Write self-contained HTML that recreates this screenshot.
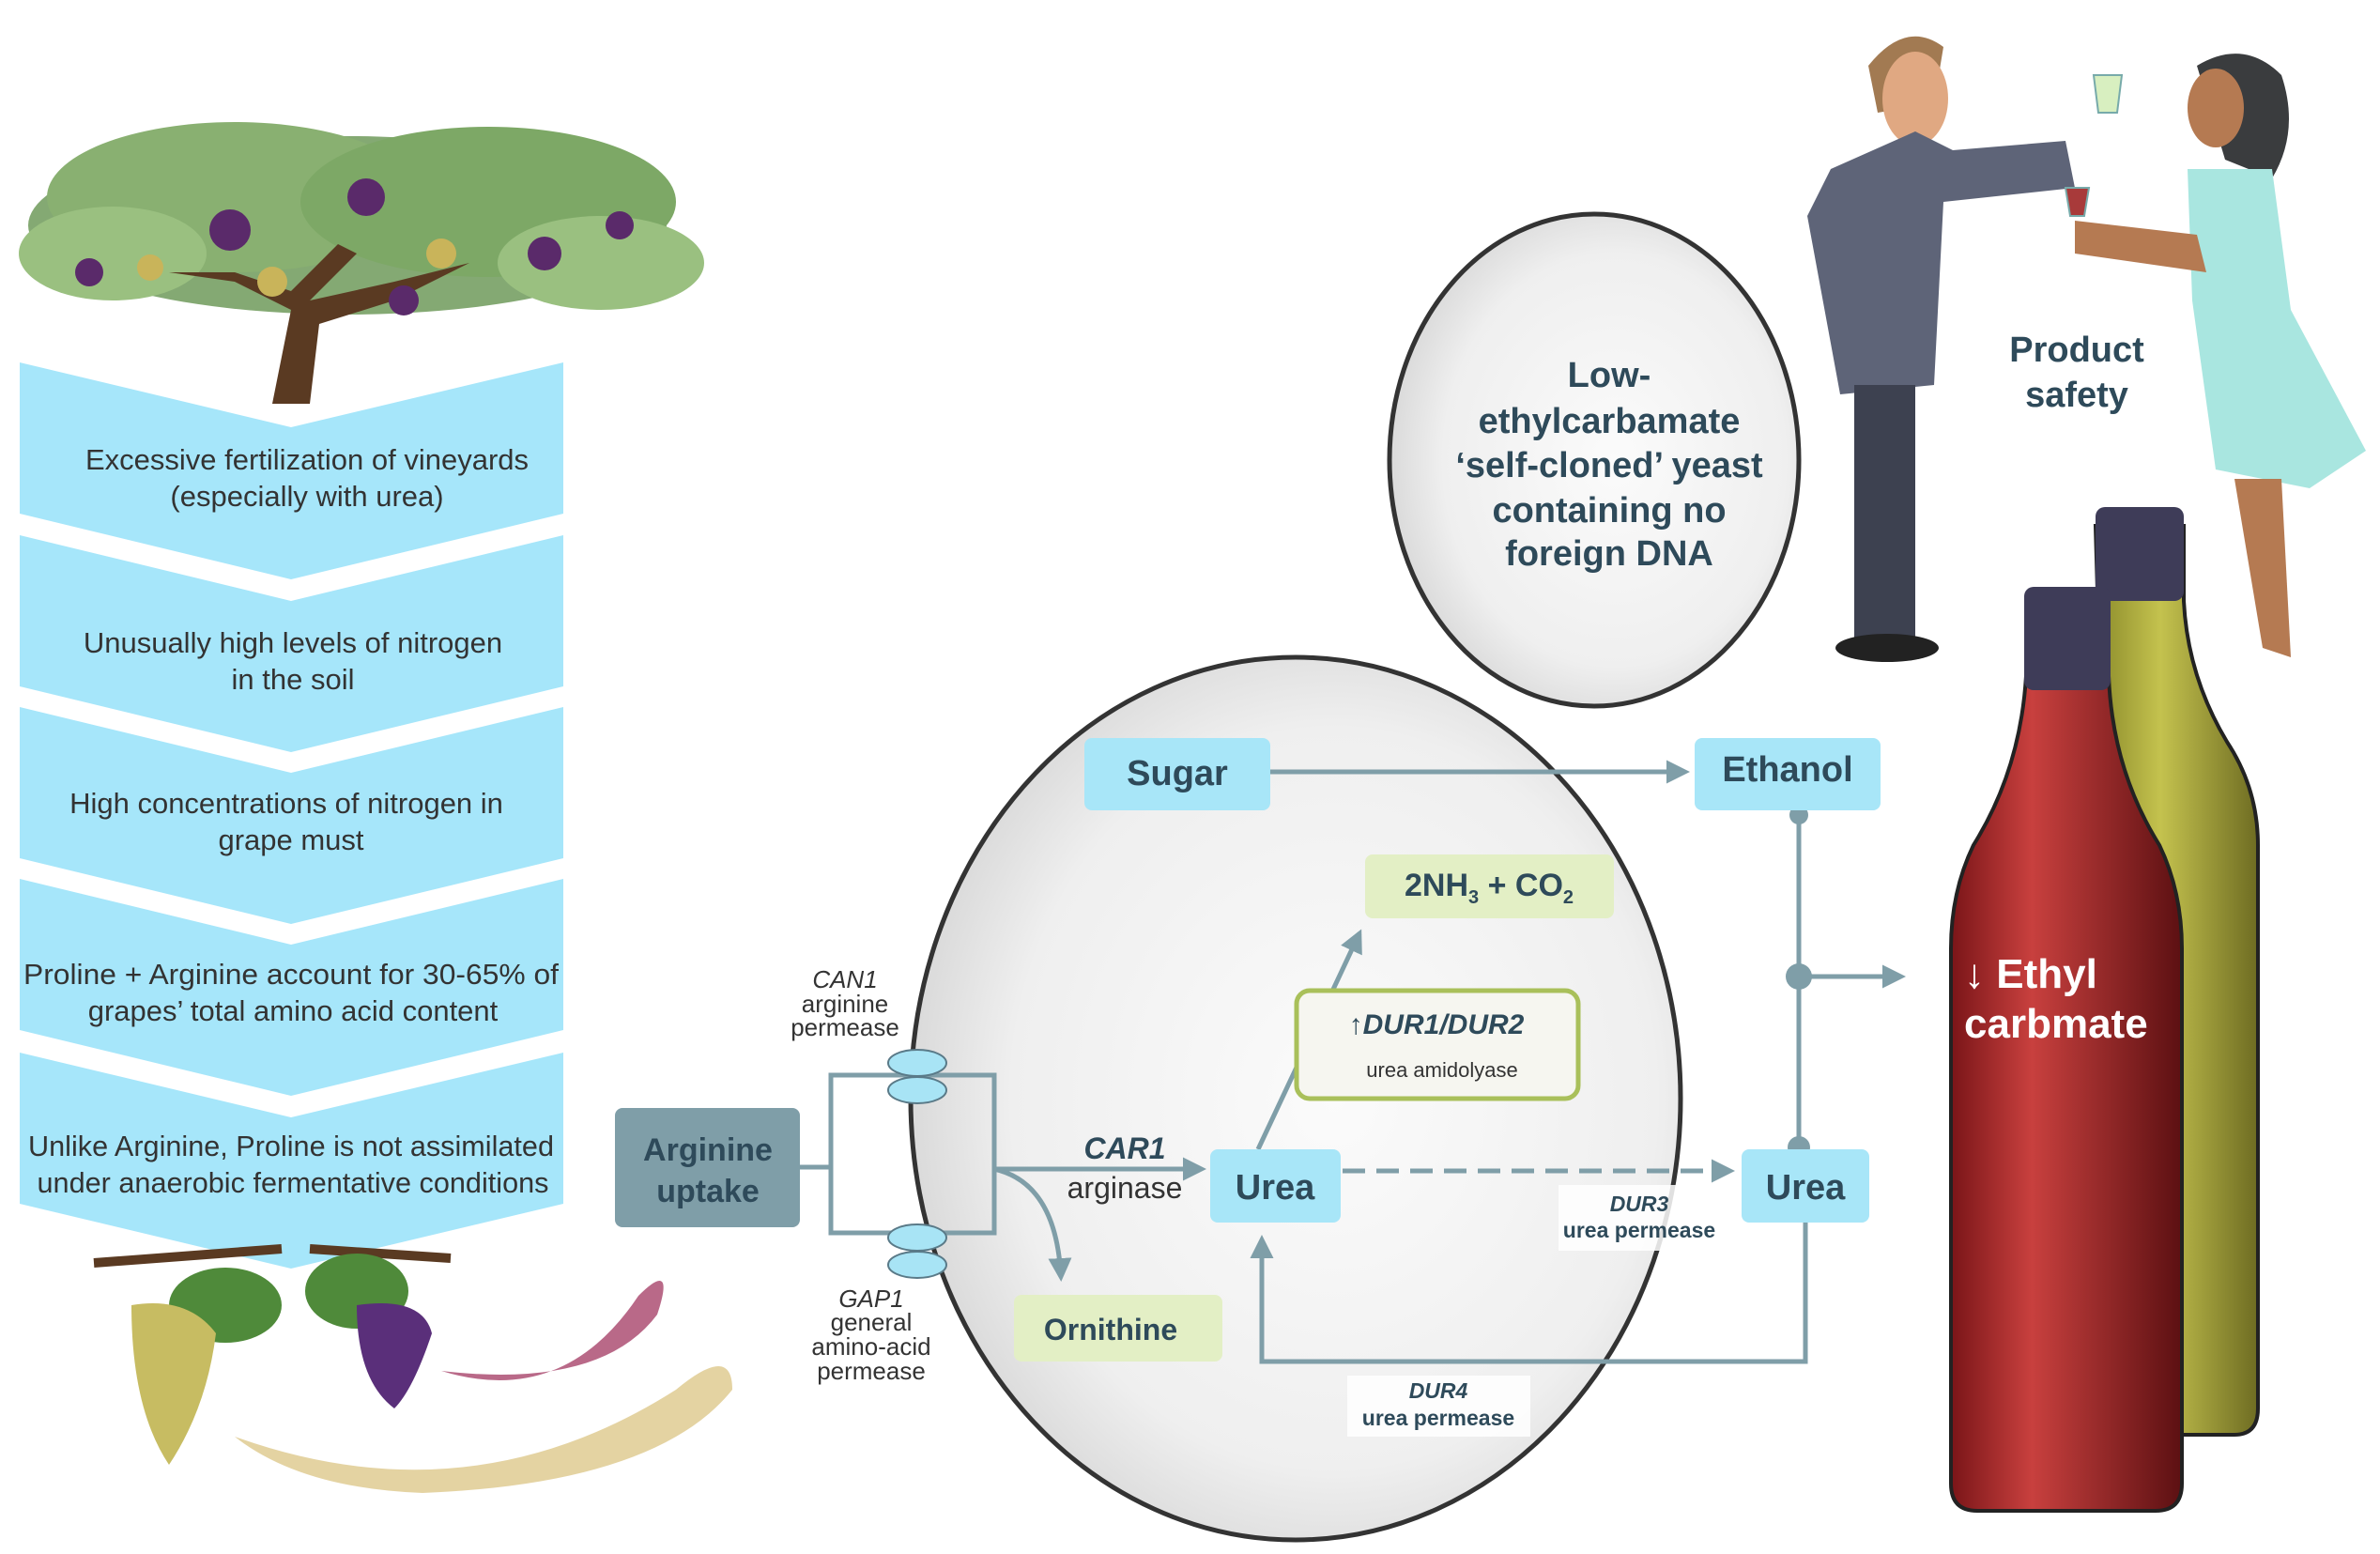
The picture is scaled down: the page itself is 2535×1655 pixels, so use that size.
<!DOCTYPE html>
<html><head><meta charset="utf-8"><style>
html,body{margin:0;padding:0;background:#fff}
svg{display:block}
text{font-family:"Liberation Sans",sans-serif}
</style></head><body>
<svg width="2535" height="1655" viewBox="0 0 2535 1655" xmlns="http://www.w3.org/2000/svg">
<defs>
<radialGradient id="cell" cx="0.55" cy="0.5" r="0.6">
<stop offset="0" stop-color="#fbfbfb"/><stop offset="0.7" stop-color="#efefef"/><stop offset="1" stop-color="#d2d2d2"/>
</radialGradient>
<linearGradient id="red" x1="0" x2="1"><stop offset="0" stop-color="#7a1518"/><stop offset="0.35" stop-color="#c8403e"/><stop offset="1" stop-color="#5c1012"/></linearGradient>
<linearGradient id="yel" x1="0" x2="1"><stop offset="0" stop-color="#8a8a2a"/><stop offset="0.4" stop-color="#c4c24e"/><stop offset="1" stop-color="#6e6c22"/></linearGradient>
<marker id="ah" viewBox="0 0 10 10" refX="8" refY="5" markerWidth="5" markerHeight="5" orient="auto"><path d="M0,0 L10,5 L0,10 z" fill="#7f9ea8"/></marker>
</defs>

<!-- tree -->
<g>
<ellipse cx="370" cy="240" rx="340" ry="95" fill="#6f9a5a" opacity="0.85"/>
<ellipse cx="250" cy="210" rx="200" ry="80" fill="#89b071"/>
<ellipse cx="520" cy="215" rx="200" ry="80" fill="#7da866"/>
<ellipse cx="120" cy="270" rx="100" ry="50" fill="#9ac080"/>
<ellipse cx="640" cy="280" rx="110" ry="50" fill="#9ac080"/>
<path d="M290,430 L310,330 L250,300 L180,290 L250,290 L310,310 L360,260 L380,270 L330,320 L420,300 L500,280 L420,320 L340,345 L330,430 Z" fill="#5a3a22"/>
<circle cx="245" cy="245" r="22" fill="#5a2a6a"/><circle cx="390" cy="210" r="20" fill="#5a2a6a"/>
<circle cx="580" cy="270" r="18" fill="#5a2a6a"/><circle cx="430" cy="320" r="16" fill="#5a2a6a"/>
<circle cx="95" cy="290" r="15" fill="#5a2a6a"/><circle cx="660" cy="240" r="15" fill="#5a2a6a"/>
<circle cx="290" cy="300" r="16" fill="#c9b45a"/><circle cx="470" cy="270" r="16" fill="#c9b45a"/><circle cx="160" cy="285" r="14" fill="#c9b45a"/>
</g>

<!-- chevrons -->
<g fill="#a6e6fa">
<path d="M21,386 L310,455 L600,386 L600,547 L310,617 L21,547 Z"/>
<path d="M21,570 L310,640 L600,570 L600,731 L310,801 L21,731 Z"/>
<path d="M21,753 L310,823 L600,753 L600,914 L310,984 L21,914 Z"/>
<path d="M21,936 L310,1006 L600,936 L600,1097 L310,1167 L21,1097 Z"/>
<path d="M21,1121 L310,1190 L600,1121 L600,1282 L310,1351 L21,1282 Z"/>
</g>
<g fill="#333" font-size="31" text-anchor="middle">
<text x="327" y="500">Excessive fertilization of vineyards</text>
<text x="327" y="539">(especially with urea)</text>
<text x="312" y="695">Unusually high levels of nitrogen</text>
<text x="312" y="734">in the soil</text>
<text x="305" y="866">High concentrations of nitrogen in</text>
<text x="310" y="905">grape must</text>
<text x="310" y="1048" textLength="570" lengthAdjust="spacingAndGlyphs">Proline + Arginine account for 30-65% of</text>
<text x="312" y="1087">grapes’ total amino acid content</text>
<text x="310" y="1231" textLength="560" lengthAdjust="spacingAndGlyphs">Unlike Arginine, Proline is not assimilated</text>
<text x="312" y="1270" textLength="545" lengthAdjust="spacingAndGlyphs">under anaerobic fermentative conditions</text>
</g>

<!-- grapes bottom -->
<path d="M100,1345 L300,1330 M330,1330 L480,1340" stroke="#5a3a22" stroke-width="10"/>
<ellipse cx="240" cy="1390" rx="60" ry="40" fill="#4f8a3a"/><ellipse cx="380" cy="1375" rx="55" ry="40" fill="#4f8a3a"/>
<path d="M140,1390 Q200,1380 230,1420 Q220,1500 180,1560 Q140,1500 140,1390Z" fill="#c7bc62"/>
<path d="M380,1390 Q450,1380 460,1420 Q440,1480 420,1500 Q380,1470 380,1390Z" fill="#5a2f7a"/>
<path d="M470,1460 Q600,1500 680,1380 Q720,1340 700,1400 Q640,1480 470,1460Z" fill="#a8446a" opacity="0.8"/>
<path d="M250,1530 Q500,1620 720,1480 Q780,1430 780,1480 Q700,1580 450,1590 Q320,1585 250,1530Z" fill="#d9c07a" opacity="0.7"/>

<!-- yeast cell -->
<ellipse cx="1698" cy="490" rx="218" ry="262" fill="url(#cell)" stroke="#333" stroke-width="5"/>
<ellipse cx="1380" cy="1170" rx="410" ry="470" fill="url(#cell)" stroke="#333" stroke-width="5"/>
<g fill="#2e4a5a" font-size="38" font-weight="bold" text-anchor="middle">
<text x="1714" y="412">Low-</text>
<text x="1714" y="461">ethylcarbamate</text>
<text x="1714" y="508">‘self-cloned’ yeast</text>
<text x="1714" y="556">containing no</text>
<text x="1714" y="602">foreign DNA</text>
<text x="2212" y="385">Product</text>
<text x="2212" y="433">safety</text>
</g>

<!-- people -->
<g>
<path d="M1990,70 Q2030,20 2070,50 L2060,110 L2000,120Z" fill="#a27a52"/>
<ellipse cx="2040" cy="105" rx="35" ry="50" fill="#e0a882"/>
<path d="M1950,180 L2040,140 L2080,160 L2200,150 L2210,200 L2070,215 L2060,410 L1960,420 L1925,230Z" fill="#5e6478"/>
<rect x="1975" y="410" width="65" height="270" fill="#3d4150"/>
<ellipse cx="2010" cy="690" rx="55" ry="15" fill="#222"/>
<path d="M2340,70 Q2390,40 2430,80 Q2450,140 2420,190 L2370,170Z" fill="#3a3c3e"/>
<ellipse cx="2360" cy="115" rx="30" ry="42" fill="#b57a52"/>
<path d="M2330,180 L2420,180 L2440,330 L2520,480 L2460,520 L2360,500 L2335,320Z" fill="#a9e6e0"/>
<path d="M2210,235 L2340,250 L2350,290 L2210,270Z" fill="#b57a52"/>
<path d="M2380,510 L2410,690 L2440,700 L2430,510Z" fill="#b57a52"/>
<path d="M2230,80 L2260,80 L2255,120 L2235,120Z" fill="#d8efc0" stroke="#7aa" stroke-width="2"/>
<path d="M2200,200 L2225,200 L2220,230 L2205,230Z" fill="#a83a3a" stroke="#7aa" stroke-width="2"/>
</g>

<!-- bottles -->
<path d="M2232,560 L2326,560 L2326,640 Q2330,720 2372,790 Q2405,840 2405,900 L2405,1500 Q2405,1528 2380,1528 L2260,1528 Z" fill="url(#yel)" stroke="#222" stroke-width="4"/>
<rect x="2232" y="540" width="94" height="100" rx="10" fill="#3e3c58"/>
<path d="M2158,650 L2246,650 L2246,720 Q2250,820 2300,900 Q2324,950 2324,1010 L2324,1580 Q2324,1609 2296,1609 L2106,1609 Q2078,1609 2078,1580 L2078,1010 Q2078,950 2102,900 Q2152,820 2158,720 Z" fill="url(#red)" stroke="#222" stroke-width="4"/>
<rect x="2156" y="625" width="92" height="110" rx="10" fill="#3e3c58"/>
<g fill="#fff" font-size="44" font-weight="bold">
<text x="2092" y="1052">↓ Ethyl</text>
<text x="2092" y="1105">carbmate</text>
</g>

<!-- pathway -->
<g stroke="#7f9ea8" stroke-width="5" fill="none">
<rect x="885" y="1145" width="174" height="168"/>
<line x1="852" y1="1243" x2="885" y2="1243"/>
<line x1="1059" y1="1245" x2="1280" y2="1245" marker-end="url(#ah)"/>
<path d="M1059,1245 Q1125,1260 1130,1360" marker-end="url(#ah)"/>
<line x1="1353" y1="822" x2="1795" y2="822" marker-end="url(#ah)"/>
<line x1="1340" y1="1224" x2="1448" y2="994" marker-end="url(#ah)"/>
<line x1="1430" y1="1247" x2="1843" y2="1247" stroke-dasharray="24,12" marker-end="url(#ah)"/>
<line x1="1916" y1="864" x2="1916" y2="1224"/>
<line x1="1916" y1="1040" x2="2025" y2="1040" marker-end="url(#ah)"/>
<polyline points="1923,1302 1923,1450 1344,1450 1344,1320" marker-end="url(#ah)"/>
</g>
<g fill="#7f9ea8"><circle cx="1916" cy="868" r="10"/><circle cx="1916" cy="1040" r="14"/><circle cx="1916" cy="1222" r="12"/></g>
<g fill="#a8e4f5" stroke="#5a7a88" stroke-width="2">
<ellipse cx="977" cy="1132" rx="31" ry="14"/><ellipse cx="977" cy="1161" rx="31" ry="14"/>
<ellipse cx="977" cy="1318" rx="31" ry="14"/><ellipse cx="977" cy="1347" rx="31" ry="14"/>
</g>
<rect x="655" y="1180" width="197" height="127" rx="8" fill="#7f9ea8"/>
<g fill="#a8e6f8">
<rect x="1155" y="786" width="198" height="77" rx="8"/>
<rect x="1805" y="786" width="198" height="77" rx="8"/>
<rect x="1289" y="1224" width="139" height="78" rx="8"/>
<rect x="1855" y="1224" width="136" height="78" rx="8"/>
</g>
<g fill="#e3efc5">
<rect x="1454" y="910" width="265" height="68" rx="8"/>
<rect x="1080" y="1379" width="222" height="71" rx="8"/>
</g>
<rect x="1381" y="1055" width="300" height="115" rx="14" fill="#f6f6f0" stroke="#a9c05a" stroke-width="5"/>
<rect x="1660" y="1262" width="175" height="70" fill="#fff" opacity="0.85"/>
<rect x="1435" y="1465" width="195" height="65" fill="#fff" opacity="0.85"/>
<g fill="#2e4a5a" font-weight="bold" text-anchor="middle">
<text x="754" y="1236" font-size="34">Arginine</text>
<text x="754" y="1280" font-size="34">uptake</text>
<text x="1254" y="836" font-size="38">Sugar</text>
<text x="1904" y="832" font-size="38">Ethanol</text>
<text x="1358" y="1277" font-size="38">Urea</text>
<text x="1923" y="1277" font-size="38">Urea</text>
<text x="1586" y="954" font-size="34">2NH<tspan font-size="20" dy="8">3</tspan><tspan dy="-8"> + CO</tspan><tspan font-size="20" dy="8">2</tspan></text>
<text x="1183" y="1427" font-size="32">Ornithine</text>
<text x="1530" y="1101" font-size="30" font-style="italic">↑DUR1/DUR2</text>
</g>
<g fill="#333" text-anchor="middle" font-size="26">
<text x="1536" y="1147" font-size="22">urea amidolyase</text>
<text x="900" y="1052" font-style="italic">CAN1</text>
<text x="900" y="1078">arginine</text>
<text x="900" y="1103">permease</text>
<text x="928" y="1392" font-style="italic">GAP1</text>
<text x="928" y="1417">general</text>
<text x="928" y="1443">amino-acid</text>
<text x="928" y="1469">permease</text>
<text x="1198" y="1234" font-size="32" font-weight="bold" font-style="italic" fill="#2e4a5a">CAR1</text>
<text x="1198" y="1276" font-size="32">arginase</text>
</g>
<g fill="#2e4a5a" text-anchor="middle" font-size="23" font-weight="bold">
<text x="1746" y="1290" font-style="italic">DUR3</text>
<text x="1746" y="1318">urea permease</text>
<text x="1532" y="1489" font-style="italic">DUR4</text>
<text x="1532" y="1518">urea permease</text>
</g>
</svg>
</body></html>
